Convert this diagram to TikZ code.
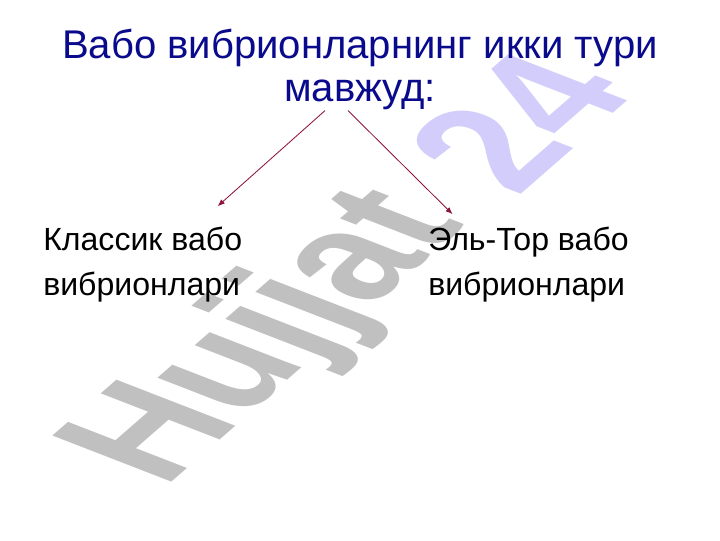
\documentclass[tikz,border=0pt]{standalone}
\usepackage{fontspec}
\setmainfont{Liberation Sans}
\usetikzlibrary{arrows.meta,calc}
\definecolor{navy}{RGB}{10,10,140}
\definecolor{maroon}{RGB}{140,20,60}
\definecolor{markgrey}{RGB}{192,192,192}
\definecolor{lavender}{RGB}{210,205,250}

\tikzset{
  headline/.style={font=\fontsize{28.5}{30.6}\selectfont, text=navy, align=center, inner sep=0pt},
  kind/.style={font=\fontsize{22.8}{31.3}\selectfont, align=left, inner sep=0pt, anchor=base west},
  stamp/.style={transform shape, anchor=base west, inner sep=0pt, font=\fontsize{10}{12}\selectfont\bfseries},
  branch/.style={maroon, line width=0.6pt, -{Latex[length=5pt,width=4pt]}}
}

\begin{document}
\begin{tikzpicture}[x=0.025cm, y=0.025cm]
    \fill[white] (0,0) rectangle (720,540);
    % Watermark behind everything
    \begin{scope}[shift={(162,50)}, cm={7.75,6.76,-12.3,4.77,(0,0)}]
      \node[stamp, text=markgrey] (markword) at (0,0) {Hujjat};
    \end{scope}
    \begin{scope}[shift={(515,341)}, cm={7.75,6.76,-12.3,4.77,(0,0)}]
      \node[stamp, text=lavender] (marknum) at (0,0) {24};
    \end{scope}
    % Title and the two kinds
    \node[headline, anchor=base] (title) at (360,438) {Вабо вибрионларнинг икки тури\\мавжуд:};
    \node[kind] (classic) at (43,245) {Классик вабо\\вибрионлари};
    \node[kind] (eltor) at (428,245) {Эль-Тор вабо\\вибрионлари};
    \draw[branch] ($(title.south)+(-35,0)$) -- ($(classic.north)+(75,21)$);
    \draw[branch] ($(title.south)+(-12,0)$) -- ($(eltor.north)+(-76,13)$);
\end{tikzpicture}
\end{document}
